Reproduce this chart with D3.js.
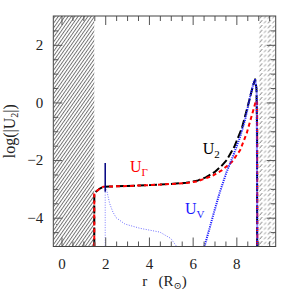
<!DOCTYPE html>
<head>
  <meta charset="utf-8">
  <script src="https://d3js.org/d3.v7.min.js"></script>
  <style>
body { margin: 0; background: #fff; }
svg { display: block; }
text { font-family: "Liberation Serif", "DejaVu Serif", serif; }
.tick text { font-size: 15px; fill: #222; }
.tick line { stroke: #555; }
  </style>
</head>
<body>
<svg width="291" height="291"></svg>
<script>
// data: r in solar radii, log|U|
var rU2   = [1.5, 1.5, 1.6, 1.7, 1.8, 1.9, 2.2, 3, 4, 5, 5.7, 6.2, 6.6, 7.0, 7.3, 7.56, 7.9, 8.25, 8.55, 8.75, 8.86, 8.92, 8.95, 8.95];
var logU2 = [-5, -3.17, -3.08, -3.02, -2.97, -2.93, -2.92, -2.9, -2.87, -2.83, -2.79, -2.72, -2.6, -2.42, -2.22, -2.0, -1.55, -0.9, -0.05, 0.55, 0.8, 0.5, -1, -5];

var rUG   = [1.5, 1.5, 1.6, 1.7, 1.8, 1.9, 2.2, 3, 4, 5, 5.7, 6.2, 6.5, 6.87, 7.33, 7.79, 8.17, 8.47, 8.73, 8.9, 8.95, 8.96];
var logUG = [-5, -3.17, -3.08, -3.02, -2.97, -2.93, -2.92, -2.9, -2.87, -2.83, -2.8, -2.74, -2.66, -2.56, -2.36, -2.07, -1.66, -1.08, -0.39, 0.07, 0.0, -5];

var rUV1   = [2.0, 2.07, 2.2, 2.35, 2.5, 2.9, 3.6, 4.5, 5.0, 5.27];
var logUV1 = [-2.94, -3.05, -3.5, -3.8, -4.0, -4.22, -4.37, -4.5, -4.72, -5];
var rUV1drop   = [2.0, 2.0];
var logUV1drop = [-2.94, -5];

var rUV2   = [6.54, 6.8, 7.0, 7.25, 7.56, 7.86, 8.17, 8.4, 8.63, 8.8, 8.86, 8.93, 8.96];
var logUV2 = [-5, -4.3, -3.75, -3.1, -2.4, -1.84, -1.2, -0.6, 0.2, 0.72, 0.78, 0.4, -5];

var rSpike   = [2.0, 2.0];
var logSpike = [-2.1, -3.1];

var innerEdge = 1.5;   // left hatched zone ends here
var outerEdge = 9.0;   // right hatched zone starts here

var xDomain = [-0.375, 9.8];
var yDomain = [-5, 3];
var xMajor = [0, 2, 4, 6, 8];
var yMajor = [-4, -2, 0, 2];
var xMinor = d3.range(0.5, 9.8, 0.5).filter(function(d) { return d % 2 !== 0; });
var yMinor = d3.range(-4.5, 3, 0.5).filter(function(d) { return d % 2 !== 0; });

var labels = [
  {r: 3.13, v: -2.42, main: "U", sub: "\u0393", color: "#ff0000"},
  {r: 6.46, v: -1.79, main: "U", sub: "2", color: "#000"},
  {r: 5.65, v: -3.87, main: "U", sub: "V", color: "#1a1aff"}
];

var svg = d3.select("svg");
var mLeft = 53.3, mRight = 275.7, mTop = 16, mBottom = 246.5;

var x = d3.scaleLinear().domain(xDomain).range([mLeft, mRight]);
var y = d3.scaleLinear().domain(yDomain).range([mBottom, mTop]);

var defs = svg.append("defs");
defs.append("clipPath").attr("id", "clip")
  .append("rect")
    .attr("x", mLeft).attr("y", mTop)
    .attr("width", mRight - mLeft).attr("height", mBottom - mTop);

var p1 = defs.append("pattern").attr("id", "hatchL")
    .attr("patternUnits", "userSpaceOnUse")
    .attr("width", 2.7).attr("height", 10)
    .attr("patternTransform", "rotate(35)");
p1.append("line").attr("x1", 0.5).attr("y1", 0).attr("x2", 0.5).attr("y2", 10)
    .attr("stroke", "#333").attr("stroke-width", 0.7);

// right zone: short slanted strokes in loose columns
var p2 = defs.append("pattern").attr("id", "hatchR")
    .attr("patternUnits", "userSpaceOnUse")
    .attr("x", 258).attr("y", 0)
    .attr("width", 8.5).attr("height", 4.8);
p2.append("line").attr("x1", 1.5).attr("y1", 4.2).attr("x2", 4.2).attr("y2", 1)
    .attr("stroke", "#555").attr("stroke-width", 0.8);
p2.append("line").attr("x1", 6).attr("y1", 4.2).attr("x2", 8.2).attr("y2", 1.6)
    .attr("stroke", "#666").attr("stroke-width", 0.7);

var plot = svg.append("g").attr("clip-path", "url(#clip)");

plot.append("rect")
    .attr("x", x(xDomain[0])).attr("y", y(yDomain[1]))
    .attr("width", x(innerEdge) - x(xDomain[0]))
    .attr("height", y(yDomain[0]) - y(yDomain[1]))
    .attr("fill", "url(#hatchL)");
plot.append("rect")
    .attr("x", x(outerEdge)).attr("y", y(yDomain[1]))
    .attr("width", x(xDomain[1]) - x(outerEdge))
    .attr("height", y(yDomain[0]) - y(yDomain[1]))
    .attr("fill", "url(#hatchR)");

var straight = d3.line()
    .x(function(d) { return x(d[0]); })
    .y(function(d) { return y(d[1]); });

function pts(rs, vs) { return rs.map(function(r, i) { return [r, vs[i]]; }); }

function draw(rs, vs, color, width, dash) {
  plot.append("path")
      .datum(pts(rs, vs))
      .attr("fill", "none")
      .attr("stroke", color)
      .attr("stroke-width", width)
      .attr("stroke-dasharray", dash)
      .attr("stroke-linejoin", "round")
      .attr("d", straight);
}

draw(rU2, logU2, "#000", 2, "8,3");
draw(rUG, logUG, "#ff0000", 2, "4,3");
draw(rUV1drop, logUV1drop, "#8080ff", 1, "1,1.5");
draw(rUV1, logUV1, "#7070ff", 1, "1,1.5");
draw(rUV2, logUV2, "#2020ff", 2, "1.2,1");
draw(rSpike, logSpike, "#000080", 1.5, null);

// frame and ticks
var axes = svg.append("g");
function ticks(axis, tr, vals, size, labelled, pad) {
  var g = axes.append("g").attr("transform", tr)
    .call(axis.tickValues(vals).tickSize(size).tickPadding(pad || 3)
      .tickFormat(labelled ? d3.format("") : ""));
  g.select(".domain").remove();
  return g;
}
ticks(d3.axisBottom(x), "translate(0," + mBottom + ")", xMajor, -9, true, 12);
ticks(d3.axisBottom(x), "translate(0," + mBottom + ")", xMinor, -5, false);
ticks(d3.axisTop(x), "translate(0," + mTop + ")", xMajor, -9, false);
ticks(d3.axisTop(x), "translate(0," + mTop + ")", xMinor, -5, false);
ticks(d3.axisLeft(y), "translate(" + mLeft + ",0)", yMajor, -9, true, 10);
ticks(d3.axisLeft(y), "translate(" + mLeft + ",0)", yMinor, -5, false);
ticks(d3.axisRight(y), "translate(" + mRight + ",0)", yMajor, -9, false);
ticks(d3.axisRight(y), "translate(" + mRight + ",0)", yMinor, -5, false);
axes.selectAll("g").attr("font-family", null).attr("font-size", null);

svg.append("rect")
    .attr("x", mLeft).attr("y", mTop)
    .attr("width", mRight - mLeft).attr("height", mBottom - mTop)
    .attr("fill", "none").attr("stroke", "#444").attr("stroke-width", 1);

// curve labels
var lab = svg.selectAll("text.lab").data(labels).enter().append("text")
    .attr("class", "lab")
    .attr("x", function(d) { return x(d.r); })
    .attr("y", function(d) { return y(d.v); })
    .attr("fill", function(d) { return d.color; })
    .attr("font-size", 16);
lab.append("tspan").text(function(d) { return d.main; });
lab.append("tspan").attr("font-size", 11).attr("dy", 4).text(function(d) { return d.sub; });

// axis titles
var xt = svg.append("text")
    .attr("x", (mLeft + mRight) / 2).attr("y", 285.5)
    .attr("text-anchor", "middle").attr("font-size", 15).attr("fill", "#222")
    .attr("xml:space", "preserve");
xt.append("tspan").text("r   (R");
xt.append("tspan").attr("font-size", 10).attr("dy", 3).text("\u2299");
xt.append("tspan").attr("dy", -3).text(")");

var yt = svg.append("text")
    .attr("transform", "translate(15," + (mTop + mBottom) / 2 + ") rotate(-90)")
    .attr("text-anchor", "middle").attr("font-size", 16).attr("fill", "#222");
yt.append("tspan").text("log(|U");
yt.append("tspan").attr("font-size", 10).attr("dy", 3).text("2");
yt.append("tspan").attr("dy", -3).text("|)");
</script>
</body>
